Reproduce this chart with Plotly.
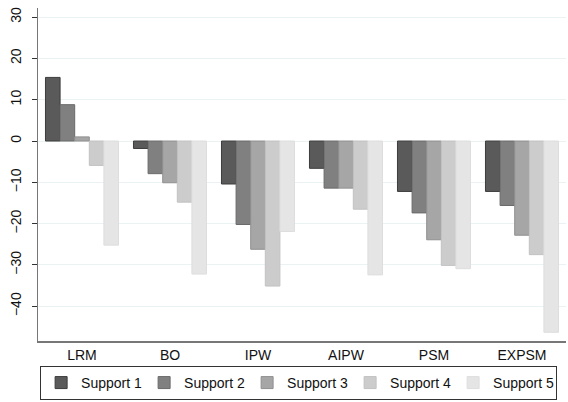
import plotly.graph_objects as go

methods = ["LRM", "BO", "IPW", "AIPW", "PSM", "EXPSM"]
series_names = ["Support 1", "Support 2", "Support 3", "Support 4", "Support 5"]

support_1 = [15.4, -1.8, -10.4, -6.6, -12.2, -12.2]
support_2 = [8.8, -7.9, -20.2, -11.4, -17.4, -15.6]
support_3 = [1.0, -10.1, -26.2, -11.4, -23.9, -22.8]
support_4 = [-5.9, -14.8, -35.1, -16.5, -30.1, -27.5]
support_5 = [-25.2, -32.2, -21.9, -32.4, -30.9, -46.3]

values = [support_1, support_2, support_3, support_4, support_5]
fills = ["#5a5a5a", "#808080", "#a6a6a6", "#cccccc", "#e5e5e5"]
edges = ["#3c3c3c", "#6a6a6a", "#909090", "#c2c2c2", "#dedede"]

fig = go.Figure()
for name, vals, fill, edge in zip(series_names, values, fills, edges):
    fig.add_trace(
        go.Bar(
            x=methods,
            y=vals,
            name=name,
            marker=dict(color=fill, line=dict(color=edge, width=1)),
        )
    )

fig.update_layout(
    width=568,
    height=402,
    template="simple_white",
    barmode="group",
    bargap=0.17,
    bargroupgap=0,
    margin=dict(l=38, r=2, t=8, b=59),
    paper_bgcolor="white",
    plot_bgcolor="white",
    font=dict(family="Liberation Sans, Arial", size=14, color="#111111"),
    legend=dict(
        orientation="h",
        x=0.004,
        xanchor="left",
        y=-0.075,
        yanchor="top",
        bordercolor="#333333",
        borderwidth=1,
        font=dict(size=14),
        entrywidth=58,
        entrywidthmode="pixels",
        tracegroupgap=0,
    ),
)
fig.update_xaxes(
    showline=True,
    linecolor="#777777",
    linewidth=2,
    ticks="",
    showgrid=False,
    tickfont=dict(size=14),
    automargin=False,
)
fig.update_yaxes(
    range=[-48.4, 32.2],
    tickvals=[-40, -30, -20, -10, 0, 10, 20, 30],
    showline=True,
    linecolor="#777777",
    linewidth=1,
    ticks="outside",
    ticklen=5,
    tickcolor="#333333",
    tickangle=-90,
    ticklabelstandoff=5,
    showgrid=True,
    gridcolor="#eaf2f3",
    gridwidth=1,
    zeroline=False,
    tickfont=dict(size=14),
    automargin=False,
)

# the page has a default body margin; drop it so the figure sits at 0,0
fig.write_html(
    "out.html",
    config={"displayModeBar": False},
    post_script="document.body.style.margin='0';",
)
